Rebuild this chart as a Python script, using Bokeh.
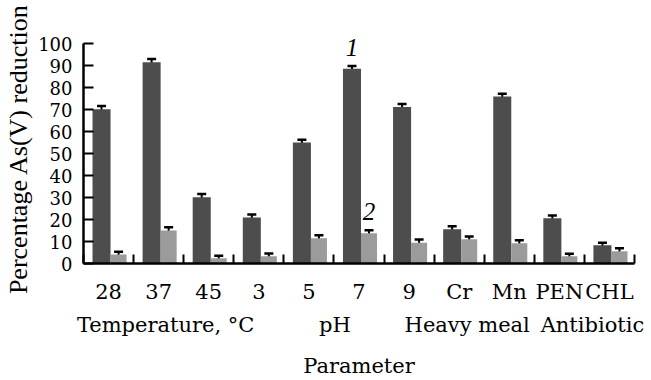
from bokeh.plotting import figure
from bokeh.models import ColumnDataSource, FixedTicker, LinearAxis, Whisker, TeeHead, Range1d
from bokeh.core.properties import value
from bokeh.embed import file_html
from bokeh.resources import INLINE

# ---- data ----
categories = ["28", "37", "45", "3", "5", "7", "9", "Cr", "Mn", "PEN", "CHL"]
series1 = [70.3, 91.7, 30.2, 21.0, 55.1, 88.7, 71.3, 15.6, 76.1, 20.6, 8.3]
series1_err = [1.4, 1.4, 1.4, 1.3, 1.3, 1.2, 1.4, 1.4, 1.2, 1.3, 1.2]
series2 = [4.1, 15.0, 2.4, 3.3, 11.5, 13.8, 9.5, 11.0, 9.2, 3.3, 5.6]
series2_err = [1.2, 1.5, 1.1, 1.2, 1.4, 1.4, 1.4, 1.3, 1.4, 1.1, 1.3]
groups = ["Temperature, \u00b0C", "pH", "Heavy meal", "Antibiotic"]
series_labels = ["1", "2"]
label_category = "7"
y_ticks = list(range(0, 101, 10))

# ---- layout constants ----
group_pos = [1.64, 5.02, 7.66, 10.16]
DARK = "#4d4d4d"
LIGHT = "#9b9b9b"
SERIF = "Liberation Serif"
WIDE = "DejaVu Serif"

n = len(categories)
dark_x = [i + 0.36 for i in range(n)]
light_x = [i + 0.70 for i in range(n)]

p = figure(width=651, height=380, output_backend="svg", toolbar_location=None,
           x_range=Range1d(0, n), y_range=Range1d(0, 104.3),
           min_border_left=83, min_border_right=17, min_border_top=34, min_border_bottom=117)
p.outline_line_color = None
p.grid.visible = False
p.background_fill_color = "white"
p.border_fill_color = "white"

src1 = ColumnDataSource(dict(x=dark_x, top=series1,
                             upper=[v + e for v, e in zip(series1, series1_err)],
                             lower=[v - e for v, e in zip(series1, series1_err)]))
src2 = ColumnDataSource(dict(x=light_x, top=series2,
                             upper=[v + e for v, e in zip(series2, series2_err)],
                             lower=[v - e for v, e in zip(series2, series2_err)]))

p.vbar(x="x", top="top", bottom=0, width=0.36, source=src1, fill_color=DARK, line_color=None)
p.vbar(x="x", top="top", bottom=0, width=0.32, source=src2, fill_color=LIGHT, line_color=None)

for s in (src1, src2):
    p.add_layout(Whisker(source=s, base="x", upper="upper", lower="lower",
                         line_color="black", line_width=2,
                         upper_head=TeeHead(size=9, line_width=2.5, line_color="black"),
                         lower_head=TeeHead(size=9, line_width=2.5, line_color="black")))

# series number labels
k = categories.index(label_category)
lab_src = ColumnDataSource(dict(x=[dark_x[k], light_x[k]],
                                y=[series1[k] + series1_err[k], series2[k] + series2_err[k]],
                                t=series_labels))
p.text(x="x", y="y", text="t", source=lab_src, text_font=value(SERIF), text_font_size="25px",
       text_font_style="italic", text_align="center", text_baseline="alphabetic",
       y_offset=-19, text_color="black")

# x axis (category labels at centres, boundary ticks as minor ticks)
xa = p.xaxis[0]
xa.ticker = FixedTicker(ticks=[i + 0.5 for i in range(n)], minor_ticks=list(range(n + 1)))
xa.major_label_overrides = {i + 0.5: c for i, c in enumerate(categories)}
xa.major_tick_line_color = None
xa.minor_tick_in = 9
xa.minor_tick_out = 0
xa.minor_tick_line_width = 2
xa.minor_tick_line_color = "black"
xa.axis_line_width = 2.5
xa.axis_line_color = "black"
xa.major_label_text_font = WIDE
xa.major_label_text_font_size = "21px"
xa.major_label_text_color = "black"
xa.major_label_standoff = 10

# group labels + axis title
xa2 = LinearAxis(ticker=FixedTicker(ticks=group_pos, minor_ticks=[]),
                 major_label_overrides={gp: g for gp, g in zip(group_pos, groups)})
xa2.axis_line_color = None
xa2.major_tick_line_color = None
xa2.minor_tick_line_color = None
xa2.major_label_standoff = 0
xa2.major_label_text_font = WIDE
xa2.major_label_text_font_size = "21px"
xa2.major_label_text_color = "black"
xa2.axis_label = "Parameter"
xa2.axis_label_text_font = WIDE
xa2.axis_label_text_font_size = "21px"
xa2.axis_label_text_font_style = "normal"
xa2.axis_label_text_color = "black"
xa2.axis_label_standoff = 14
p.add_layout(xa2, "below")

# y axis
ya = p.yaxis[0]
ya.ticker = FixedTicker(ticks=y_ticks, minor_ticks=[])
ya.bounds = (0, 100)
ya.major_tick_in = 10
ya.major_tick_out = 0
ya.major_tick_line_width = 2
ya.major_tick_line_color = "black"
ya.minor_tick_line_color = None
ya.axis_line_width = 2.5
ya.axis_line_color = "black"
ya.major_label_text_font = WIDE
ya.major_label_text_font_size = "18px"
ya.major_label_text_color = "black"
ya.major_label_standoff = 11
ya.axis_label = "Percentage As(V) reduction"
ya.axis_label_text_font = SERIF
ya.axis_label_text_font_size = "26px"
ya.axis_label_text_font_style = "normal"
ya.axis_label_text_color = "black"
ya.axis_label_standoff = 2

open("out.html", "w").write(file_html(p, INLINE))
